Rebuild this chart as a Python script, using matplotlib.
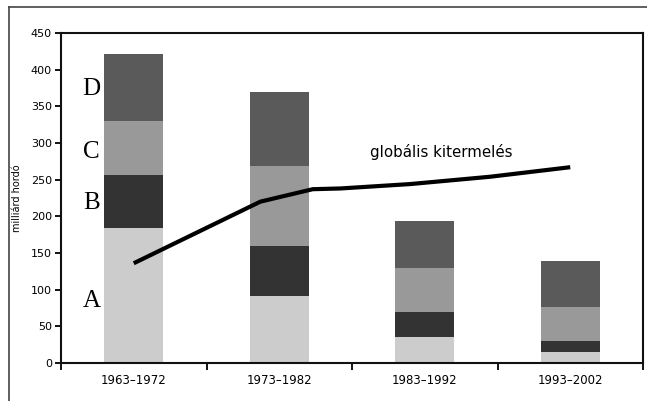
import matplotlib.pyplot as plt
from matplotlib.lines import Line2D

# decades on the x axis
periods = ['1963–1972', '1973–1982', '1983–1992', '1993–2002']

# stacked segments (milliárd hordó), bottom to top
seg_a = [184, 91, 36, 15]
seg_b = [73, 68, 33, 15]
seg_c = [73, 110, 60, 47]
seg_d = [91, 100, 64, 62]

# global production line (x in category units)
prod_x = [0.0, 0.87, 1.23, 1.42, 1.9, 2.45, 3.0]
prod_y = [136, 220, 237, 238, 244, 254, 267]

seg_names = ['A', 'B', 'C', 'D']
seg_cols = ['#cccccc', '#333333', '#999999', '#5a5a5a']
label_y = [84, 218, 288, 374]

fig = plt.figure(figsize=(6.47, 4.01), dpi=100)
ax = fig.add_axes([61/647, 1 - 363/401, 582/647, 330/401])

x = list(range(len(periods)))
bottom = [0] * len(periods)
for vals, col in zip([seg_a, seg_b, seg_c, seg_d], seg_cols):
    ax.bar(x, vals, width=0.405, bottom=bottom, color=col, linewidth=0, zorder=2)
    bottom = [b + v for b, v in zip(bottom, vals)]

ax.plot(prod_x, prod_y, color='black', lw=3, solid_capstyle='butt', zorder=3)
ax.text(2.11, 288, 'globális kitermelés', fontsize=10.8, ha='center', va='center')

for name, yy in zip(seg_names, label_y):
    ax.text(-0.29, yy, name, fontsize=18, family='Liberation Serif',
            ha='center', va='center')

ax.set_xlim(-0.5, 3.5)
ax.set_ylim(0, 450)
ax.set_yticks(range(0, 451, 50))
ax.set_xticks(x)
ax.set_xticklabels(periods)
ax.set_xticks([-0.5, 0.5, 1.5, 2.5, 3.5], minor=True)
ax.tick_params(axis='x', which='major', length=0, pad=8, labelsize=8.5)
ax.tick_params(axis='x', which='minor', length=5, width=1.3, direction='out')
ax.tick_params(axis='y', length=4.5, width=1.3, pad=2, labelsize=8)

ax.set_ylabel('milliárd hordó', fontsize=7)
ax.yaxis.set_label_coords(-0.067, 0.5)

for s in ax.spines.values():
    s.set_linewidth(1.5)
    s.set_color('#111111')

# outer frame around the figure (top and left visible)
fig.add_artist(Line2D([9/647, 1], [1 - 7/401, 1 - 7/401], color='#444444', lw=1.2))
fig.add_artist(Line2D([9/647, 9/647], [0, 1 - 7/401], color='#444444', lw=1.2))

fig.savefig('out.png', dpi=100)
